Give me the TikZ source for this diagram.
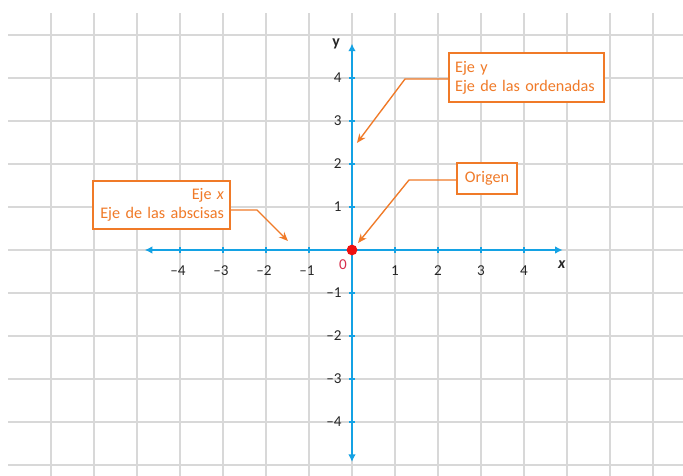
\documentclass[tikz,border=0pt]{standalone}
\usepackage{fontspec}
\setmainfont{Carlito}
\usepackage{tikz}
\usetikzlibrary{arrows.meta}
\definecolor{AzulEje}{RGB}{20,162,228}
\definecolor{NaranjaNota}{RGB}{240,122,40}
\definecolor{RojoOrigen}{RGB}{238,16,16}
\definecolor{RojoCero}{RGB}{215,45,75}
\definecolor{GrisMalla}{RGB}{216,216,216}
\tikzset{
  nota/.style={draw=NaranjaNota,line width=1.1pt,text=NaranjaNota,fill=white,
    font=\fontsize{10.7}{12.5}\selectfont,inner sep=4pt},
  flecha/.style={NaranjaNota,line width=0.9pt,-{Stealth[length=6pt,width=5pt]}},
  rotulo/.style={font=\fontsize{10}{11}\selectfont,text=black!85,inner sep=1pt}
}

\begin{document}
\begin{tikzpicture}[>=Latex]
  \useasboundingbox (-8.186,-5.256) rectangle (7.698,5.814);
  \fill[white] (-8.186,-5.256) rectangle (7.698,5.814);
  \draw[GrisMalla,line width=0.8pt] (-7.99,-5.256) grid (7.698,5.51);

  \draw[AzulEje,line width=1.6pt,{Latex[length=5pt,width=5pt]}-{Latex[length=5pt,width=5pt]}] (-4.82,0) -- (4.9,0);
  \draw[AzulEje,line width=1.6pt,{Latex[length=5pt,width=5pt]}-{Latex[length=5pt,width=5pt]}] (0,-4.93) -- (0,4.8);
  \foreach \i in {1,...,4} {
    \draw[AzulEje,line width=0.8pt] (\i,-0.07) -- (\i,0.07);
    \draw[AzulEje,line width=0.8pt] (-\i,-0.07) -- (-\i,0.07);
    \draw[AzulEje,line width=0.8pt] (-0.07,\i) -- (0.07,\i);
    \draw[AzulEje,line width=0.8pt] (-0.07,-\i) -- (0.07,-\i);
    \node[rotulo] (xp\i) at (\i,-0.47) {\i};
    \node[rotulo] (xn\i) at (-\i-0.05,-0.47) {--\i};
    \node[rotulo,anchor=east] (yp\i) at (-0.2,\i) {\i};
    \node[rotulo,anchor=east] (yn\i) at (-0.2,-\i) {--\i};
  }
  \node[rotulo,font=\fontsize{10.5}{12}\selectfont\bfseries\itshape] (nx) at (4.88,-0.35) {x};
  \node[rotulo,font=\fontsize{10.5}{12}\selectfont\bfseries] (ny) at (-0.37,4.79) {y};
  \node[rotulo,text=RojoCero] (cero) at (-0.21,-0.35) {0};
  \node[circle,fill=RojoOrigen,inner sep=0pt,minimum size=0.25cm] (origen) at (0,0) {};

  \node[nota,align=right,text width=2.91cm,minimum height=1.12cm] (ejex) at (-4.43,1.047)
    {Eje \textit{x}\\Eje de las abscisas};
  \node[nota,align=left,text width=3.32cm,minimum height=1.14cm] (ejey) at (4.058,4.01)
    {Eje y\\Eje de las ordenadas};
  \node[nota,minimum width=1.4cm,minimum height=0.72cm] (norigen) at (3.14,1.663) {Origen};

  \coordinate (codox) at (-2.21,0.93);
  \coordinate (puntax) at (-1.49,0.21);
  \coordinate (codoy) at (1.233,3.977);
  \coordinate (puntay) at (0.116,2.49);
  \coordinate (codoo) at (1.326,1.628);
  \coordinate (puntao) at (0.14,0.163);
  \draw[flecha] (ejex.east |- codox) -- (codox) -- (puntax);
  \draw[flecha] (ejey.west |- codoy) -- (codoy) -- (puntay);
  \draw[flecha] (norigen.west |- codoo) -- (codoo) -- (puntao);
\end{tikzpicture}
\end{document}
